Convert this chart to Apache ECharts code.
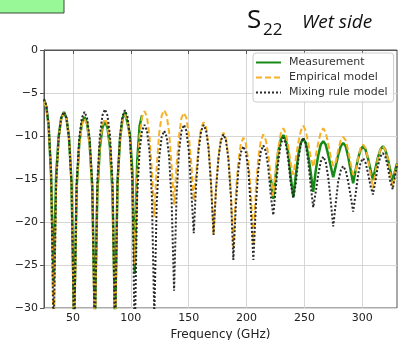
<!DOCTYPE html>
<html>
<head>
<meta charset="utf-8">
<script src="https://cdn.jsdelivr.net/npm/echarts@6/dist/echarts.min.js"></script>
<style>
  html, body { margin: 0; padding: 0; background: #fff; }
  #chart { width: 398px; height: 340px; }
</style>
</head>
<body>
<div id="chart"></div>
<script>
// frequency grid (GHz): dips, quarter points and peaks
const freq = [
  25.0, 27.0, 29.0, 31.1, 33.3,
  35.5, 37.7, 39.9, 42.2, 44.4, 46.6, 48.8, 51.0,
  53.2, 55.5, 57.7, 60.0, 62.2, 64.4, 66.7, 68.9,
  71.1, 73.3, 75.5, 77.7, 79.8, 82.0, 84.2, 86.4,
  88.5, 90.7, 92.8, 94.9, 97.0, 99.2, 101.3, 103.4,
  105.5, 107.6, 109.7, 111.9, 114.0, 116.1, 118.2, 120.3,
  122.4, 124.6, 126.7, 128.9, 131.0, 133.1, 135.3, 137.4,
  139.5, 141.7, 143.8, 145.9, 148.0, 150.1, 152.3, 154.4,
  156.5, 158.7, 160.8, 163.0, 165.1, 167.2, 169.4, 171.5,
  173.6, 175.8, 177.9, 180.1, 182.2, 184.3, 186.5, 188.6,
  190.8, 192.9, 195.1, 197.3, 199.4, 201.6, 203.7, 205.9,
  208.1, 210.2, 212.4, 214.5, 216.7, 218.8, 221.0, 223.1,
  225.3, 227.4, 229.6, 231.8, 233.9, 236.1, 238.2, 240.4,
  242.6, 244.7, 246.9, 249.0, 251.2, 253.3, 255.5, 257.6,
  259.8, 261.9, 264.1, 266.3, 268.4, 270.6, 272.7, 274.9,
  277.1, 279.2, 281.4, 283.5, 285.7, 287.8, 290.0, 292.1,
  294.2, 296.4, 298.5, 300.7, 302.8, 304.9, 307.1, 309.2,
  311.3, 313.5, 315.6, 317.8, 319.9, 322.0, 324.2, 326.3,
  328.4, 330.0
]

// Measurement (dB), null = no data (band gap)
const measurement = [
  -5.8, -6.6, -8.8, -14.5, -27,
  -14.5, -10.0, -7.9, -7.2, -7.9, -10.2, -15.5, -32,
  -16.0, -10.8, -8.5, -7.8, -8.5, -10.8, -16.0, -32,
  -16.5, -11.3, -9.0, -8.3, -9.0, -11.3, -16.5, -32,
  -15.5, -10.3, -8.0, -7.2, -8.4, -9.8, -14.0, -26,
  -13.0, -8.8, -7.6, null, null, null, null, null,
  null, null, null, null, null, null, null, null,
  null, null, null, null, null, null, null, null,
  null, null, null, null, null, null, null, null,
  null, null, null, null, null, null, null, null,
  null, null, null, null, null, null, null, null,
  null, null, null, null, null, null, -15.0, -17.3,
  -14.5, -11.8, -10.4, -9.9, -10.4, -12.0, -14.8, -17.1,
  -14.5, -12.2, -10.8, -10.3, -10.8, -12.2, -14.3, -16.5,
  -14.0, -12.3, -11.0, -10.6, -11.0, -12.2, -13.5, -14.8,
  -13.5, -12.2, -11.2, -10.8, -11.2, -12.4, -14.0, -15.5,
  -14.0, -12.6, -11.6, -11.2, -11.6, -12.6, -13.9, -15.1,
  -13.8, -12.5, -11.6, -11.2, -11.6, -12.6, -14.0, -15.3,
  -14.0, -13.2
]

// Empirical model (dB)
const empirical = [
  -6.0, -6.7, -9.0, -14.3, -34,
  -15.6, -10.3, -8.0, -7.3, -8.0, -10.3, -15.6, -34,
  -16.3, -11.0, -8.7, -8.0, -8.7, -11.0, -16.3, -34,
  -16.3, -11.0, -8.7, -8.0, -8.7, -11.0, -16.3, -34,
  -15.8, -10.5, -8.2, -7.5, -8.2, -10.5, -15.5, -25,
  -14.5, -10.0, -7.8, -7.1, -7.8, -10.0, -14.0, -19.4,
  -13.5, -9.6, -7.6, -7.0, -7.6, -9.6, -13.5, -18.0,
  -13.5, -9.9, -7.9, -7.3, -7.9, -9.9, -13.3, -17.5,
  -14.3, -11.0, -9.0, -8.4, -9.0, -11.2, -15.5, -21.4,
  -16.0, -12.3, -10.3, -9.6, -10.3, -12.5, -16.8, -22.9,
  -16.5, -13.0, -10.9, -10.2, -10.9, -13.0, -16.5, -22.5,
  -16.0, -12.5, -10.5, -9.8, -10.5, -12.2, -14.8, -17.0,
  -13.8, -11.4, -9.7, -9.1, -9.7, -11.2, -13.2, -14.5,
  -12.6, -10.8, -9.4, -8.8, -9.4, -10.8, -12.5, -13.6,
  -12.3, -10.8, -9.6, -9.1, -9.6, -10.9, -12.4, -13.5,
  -13.0, -11.6, -10.5, -10.1, -10.5, -11.7, -13.2, -14.5,
  -14.2, -12.5, -11.4, -11.0, -11.4, -12.6, -14.4, -16.1,
  -14.3, -12.6, -11.6, -11.2, -11.6, -12.6, -14.3, -15.9,
  -14.2, -13.3
]

// Mixing rule model (dB)
const mixingRule = [
  -5.7, -6.4, -8.7, -14.0, -34,
  -15.5, -10.2, -7.9, -7.2, -7.9, -10.2, -15.5, -34,
  -15.5, -10.2, -7.9, -7.2, -7.9, -10.2, -15.5, -34,
  -15.2, -9.9, -7.6, -6.9, -7.6, -9.9, -15.2, -34,
  -15.3, -10.0, -7.7, -7.0, -7.7, -10.0, -15.3, -34,
  -17.0, -11.7, -9.4, -8.7, -9.4, -11.7, -17.0, -31,
  -17.7, -12.4, -10.1, -9.4, -10.1, -12.4, -17.7, -28,
  -17.0, -11.7, -9.4, -8.7, -9.4, -11.7, -16.5, -21.3,
  -15.5, -11.5, -9.4, -8.7, -9.4, -11.5, -15.8, -21.5,
  -16.3, -12.5, -10.5, -9.8, -10.5, -12.6, -17.0, -24.4,
  -18.0, -14.0, -11.9, -11.2, -11.9, -14.0, -18.5, -24.4,
  -18.0, -13.9, -11.8, -11.1, -11.8, -13.7, -17.0, -19.2,
  -16.0, -13.0, -10.9, -10.2, -10.9, -12.8, -15.5, -17.2,
  -15.5, -12.8, -10.9, -10.2, -10.9, -13.0, -15.8, -18.3,
  -16.5, -14.5, -13.0, -12.4, -13.0, -14.8, -17.5, -20.5,
  -17.8, -15.3, -14.0, -13.5, -14.0, -15.3, -17.0, -18.8,
  -16.8, -14.5, -13.1, -12.6, -13.1, -14.3, -15.8, -16.8,
  -15.3, -13.5, -12.4, -12.0, -12.4, -13.5, -15.3, -16.2,
  -14.5, -13.5
]

const xTicks = [50, 100, 150, 200, 250, 300]

function pairs(ys) {
  return freq.map((f, i) => [f, ys[i] === null ? '-' : ys[i]])
}

const chart = echarts.init(document.getElementById('chart'))
chart.setOption({
  animation: false,
  backgroundColor: '#fff',
  grid: {
    left: 44,
    right: 1,
    top: 50,
    bottom: 32,
    outerBoundsMode: 'none',
    show: true,
    borderColor: '#555',
    borderWidth: 1
  },
  legend: {
    orient: 'vertical',
    left: 253,
    top: 53,
    padding: [4, 6, 4, 2],
    itemGap: 4,
    itemWidth: 25,
    itemHeight: 12,
    itemStyle: { opacity: 0 },
    backgroundColor: 'rgba(255,255,255,0.85)',
    borderColor: '#ccc',
    borderWidth: 1,
    borderRadius: 3,
    textStyle: { fontFamily: 'DejaVu Sans', fontSize: 11, color: '#333', padding: [0, 0, 0, 3] },
    data: ['Measurement', 'Empirical model', 'Mixing rule model']
  },
  xAxis: {
    type: 'value',
    min: 25,
    max: 330,
    name: 'Frequency (GHz)',
    nameLocation: 'middle',
    nameGap: 18,
    nameTextStyle: { fontFamily: 'DejaVu Sans', fontSize: 12, color: '#222' },
    axisLine: { lineStyle: { color: '#555' } },
    axisTick: { show: true, length: 4, customValues: xTicks, lineStyle: { color: '#555' } },
    axisLabel: { customValues: xTicks, margin: 5, fontFamily: 'DejaVu Sans', fontSize: 11, color: '#222' },
    splitLine: { show: true, lineStyle: { color: '#d6d6d6' } }
  },
  yAxis: {
    type: 'value',
    min: -30,
    max: 0,
    interval: 5,
    axisLine: { show: true, lineStyle: { color: '#555' } },
    axisTick: { show: true, length: 4, lineStyle: { color: '#555' } },
    axisLabel: {
      margin: 6,
      fontFamily: 'DejaVu Sans',
      fontSize: 11,
      color: '#222',
      formatter: v => (v < 0 ? '\u2212' + Math.abs(v) : String(v))
    },
    splitLine: { show: true, lineStyle: { color: '#d6d6d6' } }
  },
  series: [
    {
      name: 'Measurement',
      type: 'line',
      data: pairs(measurement),
      showSymbol: false,
      symbol: 'none',
      connectNulls: false,
      color: '#168a16',
      lineStyle: { width: 2.5, color: '#168a16' }
    },
    {
      name: 'Empirical model',
      type: 'line',
      data: pairs(empirical),
      showSymbol: false,
      symbol: 'none',
      color: '#f7b126',
      lineStyle: { width: 2, color: '#f7b126', type: [6, 3] }
    },
    {
      name: 'Mixing rule model',
      type: 'line',
      data: pairs(mixingRule),
      showSymbol: false,
      symbol: 'none',
      color: '#2a2a2a',
      lineStyle: { width: 2, color: '#2a2a2a', type: [2, 2] }
    }
  ],
  graphic: [
    {
      type: 'rect',
      shape: { x: -2, y: -2, width: 66, height: 15 },
      style: { fill: '#98f898', stroke: '#3a4a3a', lineWidth: 1 }
    },
    {
      type: 'text',
      style: { x: 247, y: 21, text: 'S', font: '26px "Open Sans"', fill: '#111', verticalAlign: 'middle' }
    },
    {
      type: 'text',
      style: { x: 263, y: 30, text: '22', font: '17px "Open Sans"', fill: '#111', verticalAlign: 'middle' }
    },
    {
      type: 'text',
      style: { x: 302, y: 23, text: 'Wet side', font: 'italic 19px "Open Sans"', fill: '#111', verticalAlign: 'middle' }
    }
  ]
})
</script>
</body>
</html>
